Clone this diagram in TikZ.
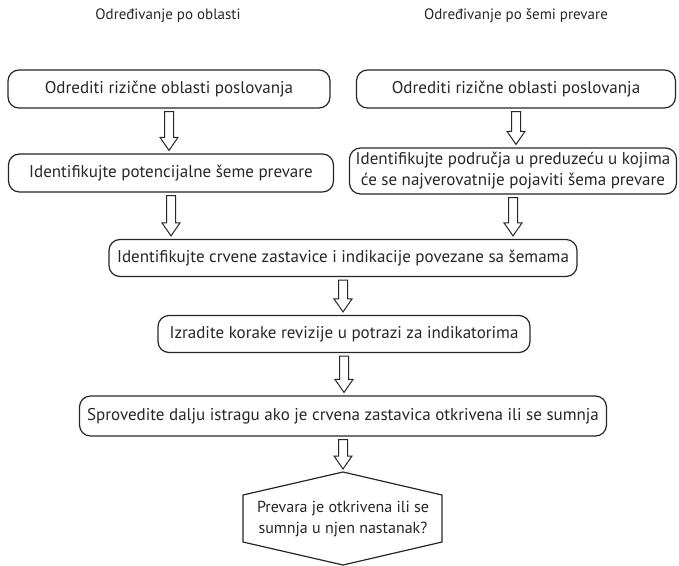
\documentclass[tikz,border=0pt]{standalone}
\usepackage{fontspec}
\setmainfont{PT Sans}
\usetikzlibrary{calc}
\tikzset{
  x=1pt, y=-1pt,
  box/.style={draw=black!85, line width=1.2pt, rounded corners=11pt, align=center, inner sep=0pt, text=black!85, font=\fontsize{17}{21}\selectfont},
  hdr/.style={text=black!85, font=\fontsize{15}{18}\selectfont, inner sep=0pt},
  harrow/.style={draw=black!85, line width=1pt, fill=white, line join=miter}
}
\newcommand\harrow[2]{%
  \draw[harrow] ($(#1)+(-4.5pt,-3pt)$) -- ($(#1 |- #2)+(-4.5pt,16pt)$) -- ($(#1 |- #2)+(-9pt,16pt)$) -- ($(#1 |- #2)+(0pt,3pt)$) -- ($(#1 |- #2)+(9pt,16pt)$) -- ($(#1 |- #2)+(4.5pt,16pt)$) -- ($(#1)+(4.5pt,-3pt)$) -- cycle;}
\begin{document}
\begin{tikzpicture}
\useasboundingbox (0,0) rectangle (679,565);
\node[hdr] (hL) at (168,16) {Određivanje po oblasti};
\node[hdr] (hR) at (516,16) {Određivanje po šemi prevare};
\node[box, minimum width=322pt, minimum height=38pt] (b1L) at (169,89) {Odrediti rizične oblasti poslovanja};
\node[box, minimum width=319pt, minimum height=38pt] (b1R) at (516,89) {Odrediti rizične oblasti poslovanja};
\node[box, minimum width=325pt, minimum height=38pt] (b2L) at (171,173) {Identifikujte potencijalne šeme prevare};
\node[box, minimum width=327pt, minimum height=46pt] (b2R) at (513,171) {Identifikujte područja u preduzeću u kojima\\će se najverovatnije pojaviti šema prevare};
\node[box, minimum width=468pt, minimum height=37pt] (b3) at (343,258) {Identifikujte crvene zastavice i indikacije povezane sa šemama};
\node[box, minimum width=372pt, minimum height=37pt] (b4) at (344,334) {Izradite korake revizije u potrazi za indikatorima};
\node[box, minimum width=527pt, minimum height=40pt] (b5) at (343,416) {Sprovedite dalju istragu ako je crvena zastavica otkrivena ili se sumnja};
\coordinate (hxT) at (343,472);
\draw[draw=black!85, line width=1.2pt] (hxT) -- (442,495) -- (442,542) -- (343,565) -- (243,542) -- (243,495) -- cycle;
\node[align=center, inner sep=0pt, text=black!85, font=\fontsize{16}{21}\selectfont] (hx) at (343,519) {Prevara je otkrivena ili se\\sumnja u njen nastanak?};
\harrow{b1L.south}{b2L.north}
\harrow{b1R.south}{b2R.north}
\harrow{b2L.south}{b3.north}
\harrow{b2R.south}{b3.north}
\harrow{b3.south}{b4.north}
\harrow{b4.south}{b5.north}
\harrow{b5.south}{hxT}
\end{tikzpicture}
\end{document}
